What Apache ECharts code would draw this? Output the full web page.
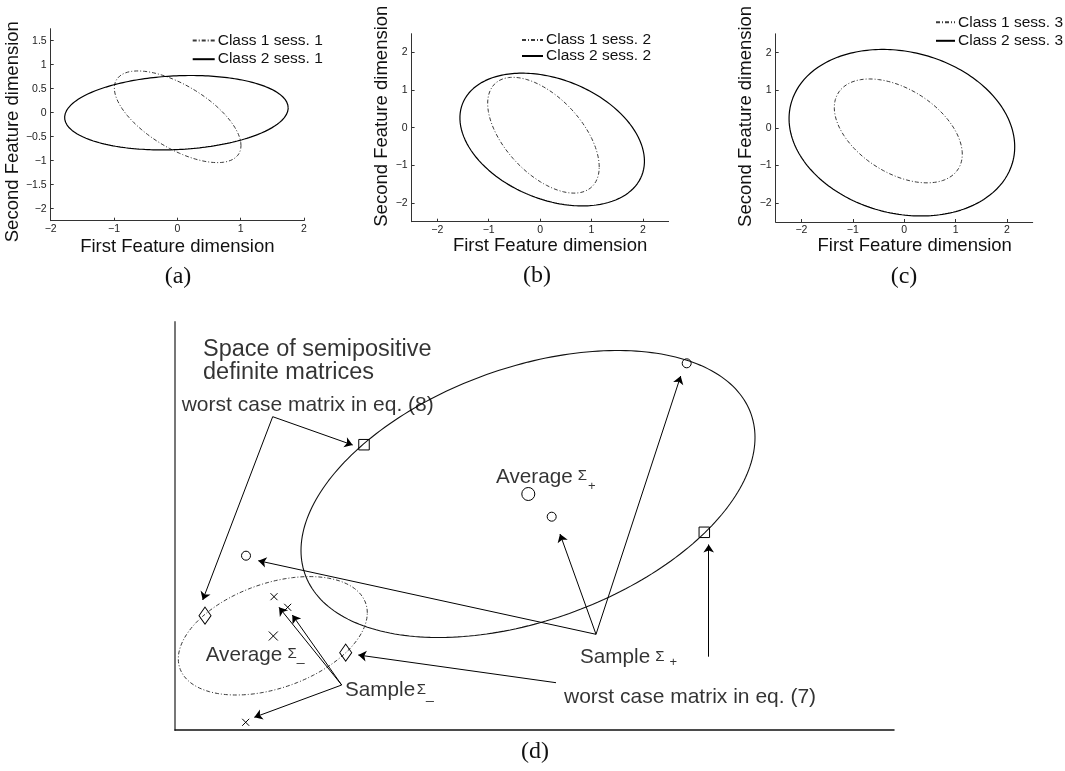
<!DOCTYPE html>
<html><head><meta charset="utf-8">
<script src="https://cdn.jsdelivr.net/npm/echarts@6/dist/echarts.min.js"></script>
<style>html,body{margin:0;padding:0;background:#fff}#c{width:1065px;height:771px}</style>
</head><body><div id="c"></div>
<script>
// ---------- values ----------
// ellipse = [centre x, centre y, half width, half height, y offset of the right-most point]
const class1Sess1 = [0.005, -0.085, 1.0, 0.955, -0.6];
const class2Sess1 = [-0.015, 0.0, 1.765, 0.775, 0.1];
const class1Sess2 = [0.065, -0.2, 1.085, 1.54, -0.845];
const class2Sess2 = [0.235, -0.315, 1.795, 1.765, -0.575];
const class1Sess3 = [-0.115, -0.08, 1.245, 1.38, -0.62];
const class2Sess3 = [-0.045, -0.1275, 2.195, 2.2125, -0.375];
const sessionNames = ['Class 1 sess. 1', 'Class 2 sess. 1', 'Class 1 sess. 2', 'Class 2 sess. 2', 'Class 1 sess. 3', 'Class 2 sess. 3'];
const axisTitleX = 'First Feature dimension';
const axisTitleY = 'Second Feature dimension';
const panelTags = ['(a)', '(b)', '(c)', '(d)'];
// axis ranges and tick steps
const rangeXa = [-2, 2], rangeYa = [-2.25, 1.75], stepXa = 1, stepYa = 0.5;
const rangeXbc = [-2.5, 2.5], rangeYbc = [-2.5, 2.5], stepBC = 1;
// panel (d): schematic drawn in its own units (x 0..719, y 0..408)
const rangeXd = [0, 719], rangeYd = [0, 408];
const positiveSpread = [353, 236, 227, 143.5, 56.5];
const negativeSpread = [97.8, 94.2, 94.5, 59.2, 23];
const squareMarks = [[189, 285.3], [529.3, 197.7]];
const diamondMarks = [[30, 114.3], [170.7, 77.3]];
const sampleCircles = [[71, 174.3], [376.7, 213.3], [511.7, 366.7]];
const averageCircle = [[353.3, 236]];
const sampleCrosses = [[99, 133.3], [112.7, 122.7], [70.7, 7.7]];
const averageCross = [[98.3, 94]];
const arrowFrom = [[97.7, 313.3], [97.7, 313.3], [421, 95.7], [421, 95.7], [421, 95.7], [533.7, 73.3], [381, 47.3], [166.7, 45], [166.7, 45], [166.7, 45]];
const arrowTo = [[177.7, 285], [27.7, 130], [83.3, 169.3], [385, 196], [505.7, 354], [533.7, 185.5], [183.3, 75], [117.3, 115], [104, 122.7], [79.3, 12.7]];
const noteTexts = ['Space of semipositive\ndefinite matrices', 'worst case matrix in eq. (8)', 'worst case matrix in eq. (7)'];
const noteAnchors = [[28, 369], [6.7, 324.5], [389, 33]];
const sigmaWords = ['Average', 'Sample', 'Average', 'Sample'];
const sigmaSubs = ['+', '+', '_', '_'];
const sigmaAnchors = [[321, 253], [405, 73], [30.7, 74.5], [170, 39.5]];

// ---------- styles ----------
const SANS = '"Liberation Sans", Arial, Helvetica, sans-serif';
const SERIF = '"Liberation Serif", "Times New Roman", serif';
const sigmaGap = [5, 5, 5, 1.5];
const sigmaLift = [3, 1, 3, 1];
const subGap = [1, 5, 0, 0];
const subDrop = [18, 11, 4, 10];
const noteSize = [23.5, 21, 21];

function ellipse(p, n) {
  n = n || 240;
  const [cx, cy, w, h, r] = p;
  const k = Math.sqrt(h * h - r * r);
  const out = [];
  for (let i = 0; i <= n; i++) {
    const t = 2 * Math.PI * i / n;
    out.push([cx + w * Math.cos(t), cy + r * Math.cos(t) + k * Math.sin(t)]);
  }
  return out;
}
function ellSeries(name, p, gi, dashed) {
  return {
    type: 'line', name: name, xAxisIndex: gi, yAxisIndex: gi, data: ellipse(p),
    symbol: 'none', showSymbol: false, smooth: false, silent: true, animation: false, z: 3,
    itemStyle: { color: dashed ? '#3a3a3a' : '#000' },
    lineStyle: { color: dashed ? '#3a3a3a' : '#000', width: dashed ? 1 : 1.2, type: dashed ? [4, 2, 1, 2] : 'solid' }
  };
}
const minus = v => String(v).replace('-', '\u2212');
function axis(gi, range, step, isX, o) {
  return {
    gridIndex: gi, type: 'value', min: range[0], max: range[1],
    splitNumber: Math.round((range[1] - range[0]) / step),
    axisLine: { show: true, onZero: false, lineStyle: { color: '#333', width: 1 } },
    axisTick: { show: true, inside: true, length: 3, lineStyle: { color: '#333' } },
    axisLabel: { fontSize: 10.5, color: '#222', fontFamily: SANS, margin: isX ? 3 : 4,
      showMinLabel: o.showEnds, showMaxLabel: o.showEnds, formatter: minus },
    splitLine: { show: false },
    name: isX ? axisTitleX : axisTitleY, nameLocation: 'middle', nameGap: o.gap,
    nameTextStyle: { fontSize: 18.5, color: '#111', fontFamily: SANS, padding: o.pad }
  };
}
function markSeries(data, symbol, size) {
  return { type: 'scatter', xAxisIndex: 3, yAxisIndex: 3, data: data, symbol: symbol, symbolSize: size,
    silent: true, animation: false, z: 6,
    itemStyle: { color: 'rgba(0,0,0,0)', borderColor: '#000', borderWidth: 1, opacity: 1 } };
}
const crossPath = 'path://M0,0L10,10M10,0L0,10';

const noteData = noteAnchors.map((a, i) => ({ value: a, label: { formatter: noteTexts[i], fontSize: noteSize[i], lineHeight: i === 0 ? 23 : undefined } }));
const sigmaData = sigmaAnchors.map((a, i) => ({
  value: a,
  label: {
    formatter: '{t|' + sigmaWords[i] + '}{s' + i + '|\u03A3}{u' + i + '|' + sigmaSubs[i] + '}'
  }
}));
const rich = { t: { fontSize: 20.7, fontFamily: SANS, color: '#000' } };
sigmaSubs.forEach((s, i) => {
  rich['s' + i] = { fontSize: 15, fontFamily: SANS, color: '#000', padding: [0, 0, sigmaLift[i], sigmaGap[i]] };
  rich['u' + i] = { fontSize: s === '+' ? 13 : 14, fontFamily: SANS, color: '#000', padding: [subDrop[i], 0, 0, subGap[i]] };
});
function legendAt(names, left, top, w, gap) {
  return { data: names, left: left, top: top, orient: 'vertical', itemWidth: w, itemHeight: 12, itemGap: gap,
    itemStyle: { opacity: 0 }, selectedMode: false,
    textStyle: { fontSize: 15.5, fontFamily: SANS, color: '#111', padding: [0, 0, 0, -2] } };
}

const option = {
  backgroundColor: '#fff',
  animation: false,
  grid: [
    { left: 50.7, top: 28.7, width: 253.3, height: 192 },
    { left: 411.6, top: 33.7, width: 257, height: 188 },
    { left: 775.7, top: 33.8, width: 257, height: 188.2 },
    { left: 175, top: 322, width: 719, height: 408 }
  ],
  xAxis: [
    axis(0, rangeXa, stepXa, true, { showEnds: true, gap: 17, pad: [0, 0, 0, 0] }),
    axis(1, rangeXbc, stepBC, true, { showEnds: false, gap: 12.5, pad: [0, 0, 0, 20] }),
    axis(2, rangeXbc, stepBC, true, { showEnds: false, gap: 13, pad: [0, 0, 0, 21] }),
    { gridIndex: 3, type: 'value', min: rangeXd[0], max: rangeXd[1], axisLine: { show: true, onZero: false, lineStyle: { color: '#111', width: 1.5 } },
      axisTick: { show: false }, axisLabel: { show: false }, splitLine: { show: false } }
  ],
  yAxis: [
    axis(0, rangeYa, stepYa, false, { showEnds: false, gap: 25, pad: [0, 14, 0, 0] }),
    axis(1, rangeYbc, stepBC, false, { showEnds: false, gap: 17.5, pad: [0, 0, 0, 23] }),
    axis(2, rangeYbc, stepBC, false, { showEnds: false, gap: 16.5, pad: [0, 0, 0, 23] }),
    { gridIndex: 3, type: 'value', min: rangeYd[0], max: rangeYd[1], axisLine: { show: true, onZero: false, lineStyle: { color: '#777', width: 2 } },
      axisTick: { show: false }, axisLabel: { show: false }, splitLine: { show: false } }
  ],
  legend: [
    legendAt(sessionNames.slice(0, 2), 186.7, 27.5, 22, 2.7),
    legendAt(sessionNames.slice(2, 4), 516, 27, 21, 0),
    legendAt(sessionNames.slice(4, 6), 930, 9.3, 19, 2.5)
  ],
  graphic: [
    { type: 'text', x: 178, y: 276.5, style: { text: panelTags[0], font: '24px ' + SERIF, fill: '#111', textAlign: 'center', textVerticalAlign: 'middle' } },
    { type: 'text', x: 537, y: 276, style: { text: panelTags[1], font: '24px ' + SERIF, fill: '#111', textAlign: 'center', textVerticalAlign: 'middle' } },
    { type: 'text', x: 904, y: 276.5, style: { text: panelTags[2], font: '24px ' + SERIF, fill: '#111', textAlign: 'center', textVerticalAlign: 'middle' } },
    { type: 'text', x: 535, y: 752, style: { text: panelTags[3], font: '24px ' + SERIF, fill: '#111', textAlign: 'center', textVerticalAlign: 'middle' } }
  ],
  series: [
    ellSeries(sessionNames[0], class1Sess1, 0, true),
    ellSeries(sessionNames[1], class2Sess1, 0, false),
    ellSeries(sessionNames[2], class1Sess2, 1, true),
    ellSeries(sessionNames[3], class2Sess2, 1, false),
    ellSeries(sessionNames[4], class1Sess3, 2, true),
    ellSeries(sessionNames[5], class2Sess3, 2, false),
    Object.assign(ellSeries('positive spread', positiveSpread, 3, false), { lineStyle: { color: '#111', width: 1.1 } }),
    ellSeries('negative spread', negativeSpread, 3, true),
    markSeries(squareMarks, 'rect', 10.5),
    markSeries(diamondMarks, 'diamond', [12, 17]),
    markSeries(sampleCircles, 'circle', 9),
    markSeries(averageCircle, 'circle', 13),
    markSeries(sampleCrosses, crossPath, 7),
    markSeries(averageCross, crossPath, 9),
    {
      type: 'lines', coordinateSystem: 'cartesian2d', xAxisIndex: 3, yAxisIndex: 3, silent: true, animation: false, z: 4,
      data: arrowFrom.map((f, i) => ({ coords: [f, arrowTo[i]] })),
      symbol: ['none', 'arrow'], symbolSize: 8,
      lineStyle: { color: '#000', width: 1, opacity: 1, curveness: 0 }
    },
    {
      type: 'scatter', xAxisIndex: 3, yAxisIndex: 3, symbolSize: 0, silent: true, animation: false, z: 7,
      data: noteData,
      label: { show: true, position: 'right', distance: 0, color: '#000', fontFamily: SANS, align: 'left' }
    },
    {
      type: 'scatter', xAxisIndex: 3, yAxisIndex: 3, symbolSize: 0, silent: true, animation: false, z: 7,
      data: sigmaData,
      label: { show: true, position: 'right', distance: 0, color: '#000', fontFamily: SANS, rich: rich }
    }
  ]
};
const chart = echarts.init(document.getElementById('c'), null, { renderer: 'canvas' });
chart.setOption(option);
</script>
</body></html>
